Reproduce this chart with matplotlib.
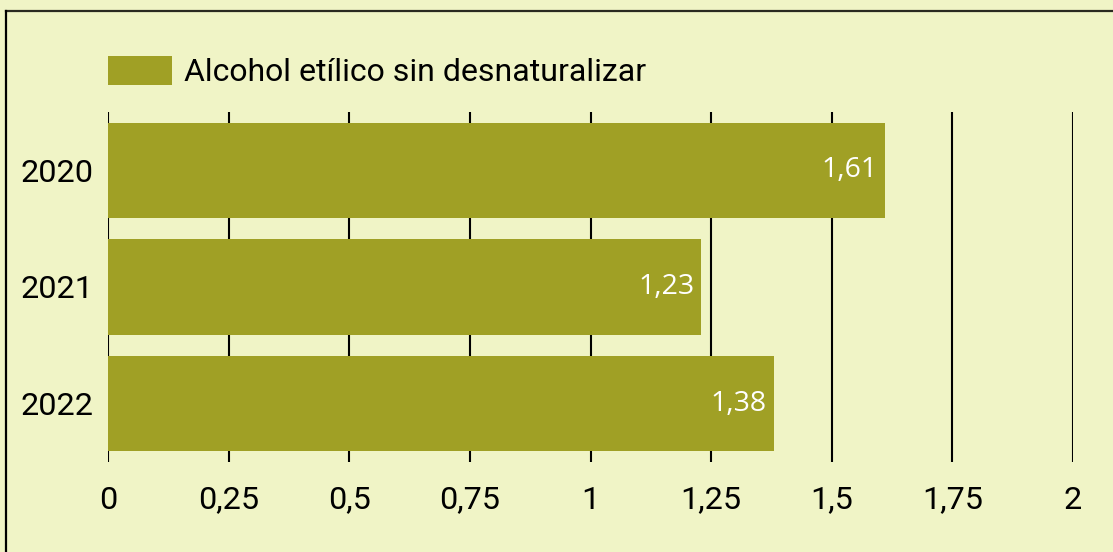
import matplotlib.pyplot as plt
from matplotlib.lines import Line2D
from matplotlib.ticker import FuncFormatter

# Datos
years = ['2020', '2021', '2022']
values = [1.61, 1.23, 1.38]
series_name = 'Alcohol etílico sin desnaturalizar'
x_ticks = [0, 0.25, 0.5, 0.75, 1, 1.25, 1.5, 1.75, 2]

bg = '#f0f4c6'
bar_color = '#a0a025'

W, H = 1113, 552
fig = plt.figure(figsize=(W / 100, H / 100), dpi=100, facecolor=bg)
ax = fig.add_axes([108 / W, 1 - 462 / H, (1073 - 108) / W, (462 - 112) / H])
ax.set_facecolor(bg)

# Líneas de la cuadrícula (verticales, negras)
for t in x_ticks:
    ax.axvline(t, color='black', lw=1.5, zorder=1)

ypos = list(range(len(years)))
bars = ax.barh(ypos, values, height=0.815, color=bar_color, zorder=2,
               label=series_name)

for y, v in zip(ypos, values):
    ax.text(v - 0.015, y, f'{v:.2f}'.replace('.', ','), ha='right', va='center',
            color='white', fontsize=20.5, family='Open Sans', zorder=3)

ax.set_xlim(0, 2)
ax.set_ylim(2.5, -0.5)
ax.set_xticks(x_ticks)
ax.xaxis.set_major_formatter(FuncFormatter(lambda v, p: f'{v:g}'.replace('.', ',')))
ax.set_yticks(ypos)
ax.set_yticklabels(years)
ax.tick_params(axis='x', length=0, pad=17, labelsize=23.3)
ax.tick_params(axis='y', length=0, pad=10.5, labelsize=23.3)
for lab in ax.get_xticklabels() + ax.get_yticklabels():
    lab.set_family('Roboto')
for s in ax.spines.values():
    s.set_visible(False)

# Leyenda
leg = fig.legend(handles=[bars], labels=[series_name], loc='upper left',
                 bbox_to_anchor=(79 / W, 1 - 27 / H), frameon=False,
                 prop={'family': 'Roboto', 'size': 23},
                 handlelength=2.0, handleheight=1.05, handletextpad=0.4)

# Borde exterior (solo arriba e izquierda visibles)
fig.add_artist(Line2D([6 / W, 1.0], [1 - 11 / H, 1 - 11 / H], color='#2a2a20', lw=1.6,
                      transform=fig.transFigure))
fig.add_artist(Line2D([6 / W, 6 / W], [0, 1 - 11 / H], color='black', lw=1.6,
                      transform=fig.transFigure))

fig.savefig('out.png', dpi=100, facecolor=bg)
